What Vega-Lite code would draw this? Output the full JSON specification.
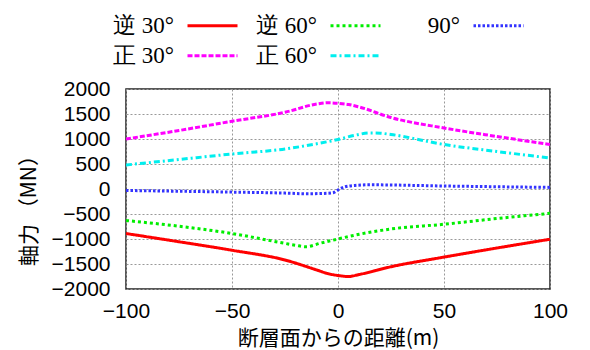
{
  "$schema": "https://vega.github.io/schema/vega-lite/v6.json",
  "width": 424,
  "height": 200,
  "autosize": "none",
  "padding": {"left": 126, "top": 89, "right": 40, "bottom": 61},
  "config": {
    "view": {"stroke": "#222", "strokeWidth": 1.5},
    "legend": {
      "orient": "none",
      "legendX": 60,
      "columns": 3,
      "direction": "horizontal",
      "gridAlign": "all",
      "symbolType": "stroke",
      "symbolSize": 2500,
      "symbolStrokeWidth": 3,
      "labelFont": "Liberation Serif",
      "labelFontSize": 23,
      "labelColor": "black",
      "labelAlign": "right",
      "labelOffset": -65,
      "columnPadding": 12,
      "padding": 0,
      "title": null
    }
  },
  "data": {
    "values": [
      {"series": "逆 30°", "x": -100, "y": -890},
      {"series": "逆 30°", "x": -75, "y": -1055},
      {"series": "逆 30°", "x": -50, "y": -1225},
      {"series": "逆 30°", "x": -25, "y": -1420},
      {"series": "逆 30°", "x": -10, "y": -1620},
      {"series": "逆 30°", "x": -5, "y": -1690},
      {"series": "逆 30°", "x": 0, "y": -1730},
      {"series": "逆 30°", "x": 5, "y": -1750},
      {"series": "逆 30°", "x": 10, "y": -1710},
      {"series": "逆 30°", "x": 25, "y": -1555},
      {"series": "逆 30°", "x": 50, "y": -1362},
      {"series": "逆 30°", "x": 75, "y": -1180},
      {"series": "逆 30°", "x": 100, "y": -1005},
      {"series": "逆 60°", "x": -100, "y": -630},
      {"series": "逆 60°", "x": -75, "y": -745},
      {"series": "逆 60°", "x": -50, "y": -890},
      {"series": "逆 60°", "x": -25, "y": -1088},
      {"series": "逆 60°", "x": -20, "y": -1125},
      {"series": "逆 60°", "x": -15, "y": -1155},
      {"series": "逆 60°", "x": -8, "y": -1080},
      {"series": "逆 60°", "x": 0, "y": -1000},
      {"series": "逆 60°", "x": 10, "y": -905},
      {"series": "逆 60°", "x": 25, "y": -800},
      {"series": "逆 60°", "x": 50, "y": -705},
      {"series": "逆 60°", "x": 75, "y": -590},
      {"series": "逆 60°", "x": 100, "y": -487},
      {"series": "90°", "x": -100, "y": -30},
      {"series": "90°", "x": -75, "y": -45},
      {"series": "90°", "x": -50, "y": -62},
      {"series": "90°", "x": -25, "y": -82},
      {"series": "90°", "x": -15, "y": -95},
      {"series": "90°", "x": -5, "y": -85},
      {"series": "90°", "x": -2, "y": -70},
      {"series": "90°", "x": 0, "y": -20},
      {"series": "90°", "x": 3, "y": 40},
      {"series": "90°", "x": 8, "y": 72},
      {"series": "90°", "x": 15, "y": 85},
      {"series": "90°", "x": 25, "y": 80},
      {"series": "90°", "x": 50, "y": 60},
      {"series": "90°", "x": 75, "y": 45},
      {"series": "90°", "x": 100, "y": 32},
      {"series": "正 30°", "x": -100, "y": 1000},
      {"series": "正 30°", "x": -75, "y": 1170},
      {"series": "正 30°", "x": -50, "y": 1355},
      {"series": "正 30°", "x": -25, "y": 1535},
      {"series": "正 30°", "x": -10, "y": 1700},
      {"series": "正 30°", "x": -5, "y": 1725},
      {"series": "正 30°", "x": 0, "y": 1715},
      {"series": "正 30°", "x": 5, "y": 1690},
      {"series": "正 30°", "x": 10, "y": 1640},
      {"series": "正 30°", "x": 25, "y": 1430},
      {"series": "正 30°", "x": 50, "y": 1220},
      {"series": "正 30°", "x": 75, "y": 1050},
      {"series": "正 30°", "x": 100, "y": 890},
      {"series": "正 60°", "x": -100, "y": 480},
      {"series": "正 60°", "x": -75, "y": 590},
      {"series": "正 60°", "x": -50, "y": 700},
      {"series": "正 60°", "x": -25, "y": 800},
      {"series": "正 60°", "x": -10, "y": 905},
      {"series": "正 60°", "x": 0, "y": 990},
      {"series": "正 60°", "x": 8, "y": 1075},
      {"series": "正 60°", "x": 15, "y": 1120},
      {"series": "正 60°", "x": 20, "y": 1115},
      {"series": "正 60°", "x": 25, "y": 1090},
      {"series": "正 60°", "x": 50, "y": 890},
      {"series": "正 60°", "x": 75, "y": 750},
      {"series": "正 60°", "x": 100, "y": 620}
    ]
  },
  "encoding": {
    "x": {
      "field": "x",
      "type": "quantitative",
      "scale": {"domain": [-100, 100], "nice": false},
      "axis": {
        "values": [-100, -50, 0, 50, 100],
        "format": "d",
        "title": "断層面からの距離(m)",
        "titleFont": "Noto Sans CJK JP",
        "titleFontSize": 21,
        "titleFontWeight": "normal",
        "titleColor": "black",
        "titlePadding": 6,
        "labelFont": "Liberation Sans",
        "labelFontSize": 21,
        "labelColor": "black",
        "labelPadding": 11,
        "labelFlush": false,
        "labelOverlap": false,
        "grid": true,
        "gridDash": [2, 2],
        "gridColor": "#999",
        "ticks": false,
        "domain": false
      }
    },
    "y": {
      "field": "y",
      "type": "quantitative",
      "scale": {"domain": [-2000, 2000], "nice": false},
      "axis": {
        "values": [-2000, -1500, -1000, -500, 0, 500, 1000, 1500, 2000],
        "format": "d",
        "title": "軸力 （MN）",
        "titleFont": "Noto Sans CJK JP",
        "titleFontSize": 21,
        "titleFontWeight": "normal",
        "titleColor": "black",
        "titlePadding": 12,
        "titleY": 116,
        "labelFont": "Liberation Sans",
        "labelFontSize": 21,
        "labelColor": "black",
        "labelPadding": 16,
        "labelFlush": false,
        "labelOverlap": false,
        "grid": true,
        "gridDash": [2, 2],
        "gridColor": "#999",
        "ticks": false,
        "domain": false
      }
    }
  },
  "layer": [
    {
      "transform": [{"filter": {"field": "series", "oneOf": ["正 30°", "正 60°"]}}],
      "mark": {"type": "line", "strokeWidth": 3, "clip": true, "interpolate": "monotone"},
      "encoding": {
        "color": {
          "field": "series",
          "type": "nominal",
          "scale": {"domain": ["正 30°", "正 60°"], "range": ["#ff00ff", "#00eeee"]},
          "legend": {"legendY": -60}
        },
        "strokeDash": {
          "field": "series",
          "type": "nominal",
          "scale": {"domain": ["正 30°", "正 60°"], "range": [[5, 2], [6, 3, 2, 3]]},
          "legend": {"legendY": -60}
        }
      }
    },
    {
      "transform": [{"filter": {"field": "series", "oneOf": ["逆 30°", "逆 60°", "90°"]}}],
      "mark": {"type": "line", "strokeWidth": 3, "clip": true, "interpolate": "monotone"},
      "encoding": {
        "color": {
          "field": "series",
          "type": "nominal",
          "scale": {"domain": ["逆 30°", "逆 60°", "90°"], "range": ["#ff0000", "#00ee00", "#3333ff"]},
          "legend": {"legendY": -90}
        },
        "strokeDash": {
          "field": "series",
          "type": "nominal",
          "scale": {"domain": ["逆 30°", "逆 60°", "90°"], "range": [[1, 0], [3, 3], [2.5, 2]]},
          "legend": {"legendY": -90}
        }
      }
    }
  ],
  "resolve": {
    "scale": {"color": "independent", "strokeDash": "independent"},
    "legend": {"color": "independent", "strokeDash": "independent"}
  }
}
